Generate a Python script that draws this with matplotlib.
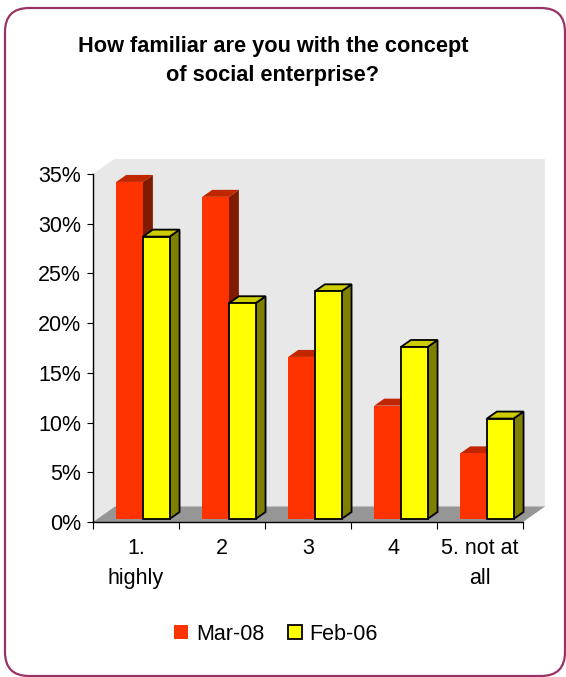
import matplotlib
matplotlib.use("Agg")
import matplotlib.pyplot as plt
from matplotlib.patches import Polygon, Rectangle, FancyBboxPatch, Patch
from matplotlib.transforms import ScaledTranslation, IdentityTransform

plt.rcParams['font.family'] = ['Liberation Sans', 'DejaVu Sans']

# ---- data ----
categories = ["1.\nhighly", "2", "3", "4", "5. not at\nall"]
series_names = ["Mar-08", "Feb-06"]
mar08 = [33.9, 32.4, 16.3, 11.4, 6.6]
feb06 = [28.4, 21.7, 22.9, 17.3, 10.1]
y_ticks = [0, 5, 10, 15, 20, 25, 30, 35]
y_labels = [f"{t}%" for t in y_ticks]
title = "How familiar are you with the concept\nof social enterprise?"

# ---- styling ----
W, H, DPI = 566, 677, 100
FS = 15.5
red = dict(front="#FF3300", top="#C02600", side="#801A00", edge="none", lw=0)
yel = dict(front="#FFFF00", top="#CCCC00", side="#808000", edge="black", lw=1.3)
wall_color = "#E8E8E8"
floor_color = "#969696"
frame_color = "#993366"

fig = plt.figure(figsize=(W / DPI, H / DPI), dpi=DPI)
fig.patch.set_facecolor("white")

# plot area: front plane of the 3-D box, in pixel units
ax_l, ax_r, ax_top, ax_bot = 93, 523, 174, 522
ax = fig.add_axes([ax_l / W, 1 - ax_bot / H, (ax_r - ax_l) / W, (ax_bot - ax_top) / H])
ax.set_xlim(0, len(categories))
ax.set_ylim(0, 35)
ax.patch.set_visible(False)

# depth of the box and of the columns (pixels, right / up)
box_dx, box_dy = 22, 15.5
bar_dx, bar_dy = 10, 7
bar_lift = 3


def disp(x, y, ox=0.0, oy=0.0):
    px, py = ax.transData.transform((x, y))
    return (px + ox, py + oy)


def poly(points, **kw):
    p = Polygon(points, closed=True, transform=IdentityTransform(), clip_on=False, **kw)
    ax.add_patch(p)
    return p


n = len(categories)
# back wall
back = Rectangle((0, 0), n, 35, facecolor=wall_color, edgecolor="none", clip_on=False,
                 transform=ax.transData + ScaledTranslation(box_dx / DPI, box_dy / DPI, fig.dpi_scale_trans),
                 zorder=0.5)
ax.add_patch(back)
# left side wall
poly([disp(0, 0), disp(0, 35), disp(0, 35, box_dx, box_dy), disp(0, 0, box_dx, box_dy)],
     facecolor=wall_color, edgecolor="none", zorder=0.6)
# floor
poly([disp(0, 0), disp(n, 0), disp(n, 0, box_dx, box_dy), disp(0, 0, box_dx, box_dy)],
     facecolor=floor_color, edgecolor="none", zorder=0.7)

lift = ax.transData + ScaledTranslation(0, bar_lift / DPI, fig.dpi_scale_trans)
bar_w = 0.31
offsets = [0.27, 0.58]
z = 2
for i in range(n):
    for s, (vals, st) in enumerate([(mar08, red), (feb06, yel)]):
        x0 = i + offsets[s]
        h = vals[i]
        br = disp(x0 + bar_w, 0, 0, bar_lift)
        tr = disp(x0 + bar_w, h, 0, bar_lift)
        tl = disp(x0, h, 0, bar_lift)
        poly([br, tr, (tr[0] + bar_dx, tr[1] + bar_dy), (br[0] + bar_dx, br[1] + bar_dy)],
             facecolor=st["side"], edgecolor=st["edge"], linewidth=st["lw"], zorder=z,
             joinstyle="miter")
        poly([tl, tr, (tr[0] + bar_dx, tr[1] + bar_dy), (tl[0] + bar_dx, tl[1] + bar_dy)],
             facecolor=st["top"], edgecolor=st["edge"], linewidth=st["lw"], zorder=z,
             joinstyle="miter")
        b = ax.bar([x0], [h], width=bar_w, align="edge", color=st["front"],
                   edgecolor=st["edge"], linewidth=st["lw"], zorder=z + 0.5, clip_on=False)
        for p in b.patches:
            p.set_transform(lift)
            p.set_joinstyle("miter")
        z += 1

# axes lines and ticks
for side in ["top", "right"]:
    ax.spines[side].set_visible(False)
for side in ["left", "bottom"]:
    ax.spines[side].set_color("black")
    ax.spines[side].set_linewidth(1.0)
    ax.spines[side].set_zorder(50)

ax.set_yticks(y_ticks)
ax.set_yticklabels(y_labels)
ax.tick_params(axis="y", direction="out", length=4.5, width=0.8, pad=4, labelsize=FS)
ax.set_xticks(range(n + 1))
ax.set_xticklabels([])
ax.set_xticks([i + 0.5 for i in range(n)], minor=True)
ax.set_xticklabels(categories, minor=True, linespacing=1.55)
ax.tick_params(axis="x", which="major", direction="out", length=5, width=0.8)
ax.tick_params(axis="x", which="minor", length=0, pad=11.5, labelsize=FS)

# title
fig.text(273 / W, 1 - 61 / H, title, ha="center", va="center", fontsize=15.7,
         fontweight="bold", linespacing=1.5)

# legend
leg_handles = [Patch(facecolor=red["front"], edgecolor="none"),
               Patch(facecolor=yel["front"], edgecolor="black", linewidth=1.3)]
fig.legend(leg_handles, series_names, loc="center", ncol=2,
           bbox_to_anchor=(276 / W, 1 - 634 / H), bbox_transform=fig.transFigure,
           frameon=False, fontsize=FS, handlelength=0.65, handleheight=0.65,
           handletextpad=0.35, columnspacing=1.1)

# rounded frame around the chart
frame = FancyBboxPatch((5, H - 676), 560, 668, boxstyle="round,pad=0,rounding_size=24",
                       facecolor="none", edgecolor=frame_color, linewidth=1.6,
                       transform=IdentityTransform())
fig.add_artist(frame)

fig.savefig("out.png", dpi=DPI)
